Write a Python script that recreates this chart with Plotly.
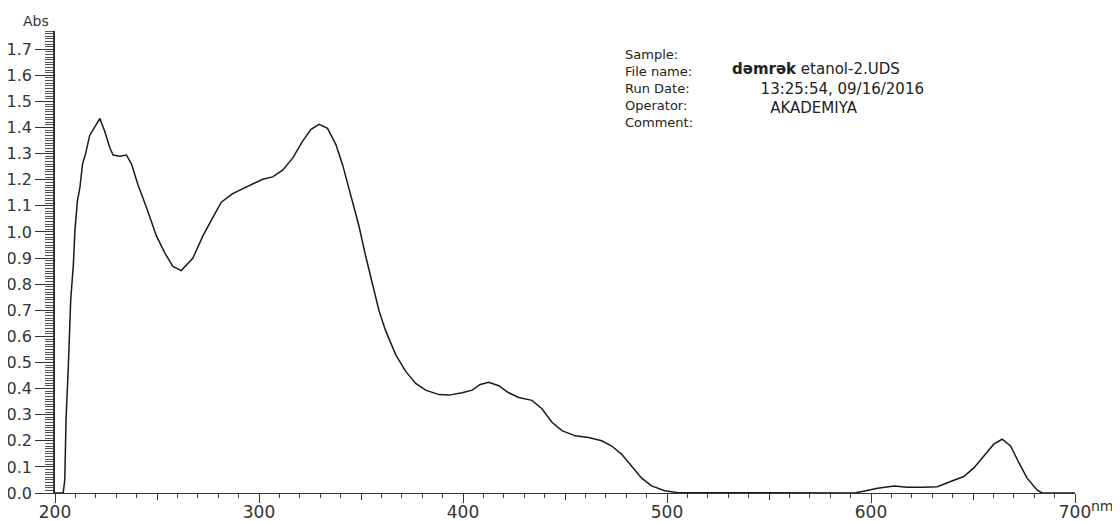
import plotly.graph_objects as go

# Spectrum (wavelength in nm, absorbance)
wavelength = [200, 204, 204.8, 205.4, 206.5, 207.7, 209, 209.8, 211, 212.2, 213.5, 215, 217, 219.5,
              222, 224.4, 227, 228.5, 231.8, 235, 237.5, 240.7, 244.8, 249.7, 253.8, 257.8, 261.9,
              267.6, 272.5, 277.4, 281.5, 287.1, 293, 296.9, 301.8, 306.7, 311.6, 316.5, 321.4,
              325.5, 329.5, 333.6, 337.7, 341, 345, 349, 352.3, 355.6, 358.8, 362.1, 367, 371.9,
              376.8, 381.7, 388.2, 393.1, 399.6, 404.5, 408.5, 412.6, 417.5, 422.4, 427.3, 433.8,
              438.7, 443.6, 448.5, 455, 461.5, 468, 472.9, 477.8, 482.7, 487.6, 492.4, 498.9,
              505.5, 550, 592, 597, 603.2, 611.4, 617.9, 626, 632.5, 639, 645.5, 650.4, 655.3,
              660.2, 664.3, 668.4, 672.5, 676.5, 681.4, 683.8, 700]
absorbance = [0, 0, 0.05, 0.28, 0.48, 0.74, 0.875, 1.01, 1.12, 1.17, 1.26, 1.30, 1.37, 1.40,
              1.435, 1.385, 1.32, 1.295, 1.29, 1.295, 1.26, 1.18, 1.095, 0.985, 0.92, 0.868, 0.852,
              0.90, 0.985, 1.056, 1.114, 1.147, 1.17, 1.186, 1.202, 1.211, 1.237, 1.283, 1.348,
              1.393, 1.412, 1.397, 1.335, 1.257, 1.14, 1.023, 0.907, 0.803, 0.699, 0.621, 0.53, 0.466,
              0.42, 0.394, 0.377, 0.375, 0.384, 0.394, 0.416, 0.424, 0.411, 0.384, 0.366, 0.355,
              0.323, 0.271, 0.239, 0.219, 0.213, 0.2, 0.18, 0.148, 0.102, 0.057, 0.027, 0.009,
              0.001, 0.0, 0.0, 0.008, 0.018, 0.027, 0.022, 0.022, 0.024, 0.044, 0.063, 0.096, 0.141,
              0.187, 0.206, 0.18, 0.116, 0.057, 0.012, 0.0, 0.0]

x_ticks = [200, 250, 300, 350, 400, 450, 500, 550, 600, 650, 700]
x_ticktext = ["200", "", "300", "", "400", "", "500", "", "600", "", "700"]
x_major = [200, 300, 400, 500, 600, 700]
y_ticks = [round(i * 0.1, 1) for i in range(18)]
y_ticktext = [f"{v:.1f}" for v in y_ticks]

NB = "\u00a0"
info_labels = ["Sample:", "File name:", "Run Date:", "Operator:", "Comment:"]
info_values = ["<b>dəmrək</b> etanol-2.UDS", NB * 6 + "13:25:54, 09/16/2016",
               NB * 8 + "AKADEMIYA"]

FONT = "DejaVu Sans"

fig = go.Figure()
fig.add_trace(go.Scatter(x=wavelength, y=absorbance, mode="lines",
                         line=dict(color="#1a1a1a", width=1.5), hoverinfo="skip",
                         showlegend=False))
# invisible trace to carry the long 100-nm ticks axis
fig.add_trace(go.Scatter(x=[200, 700], y=[0, 0], xaxis="x2", mode="lines",
                         line=dict(color="rgba(0,0,0,0)", width=0), hoverinfo="skip",
                         showlegend=False))

fig.update_layout(
    width=1120, height=522,
    margin=dict(l=47, r=53, t=23, b=37),
    paper_bgcolor="white", plot_bgcolor="white",
    font=dict(family=FONT, color="#222"),
    xaxis=dict(range=[200, 700], tickvals=x_ticks, ticktext=x_ticktext,
               ticks="outside", ticklen=6, tickwidth=1.3, tickcolor="#333",
               showline=True, linecolor="#333", linewidth=1.4, automargin=False,
               showgrid=False, zeroline=False, ticklabelstandoff=-3,
               tickfont=dict(family=FONT, size=17, color="#333"),
               minor=dict(dtick=10, tick0=200, ticks="outside", ticklen=4,
                          tickwidth=1.2, tickcolor="#444", showgrid=False)),
    xaxis2=dict(range=[200, 700], overlaying="x", side="bottom", anchor="y",
                tickvals=x_major, ticks="outside", ticklen=9, tickwidth=1.4,
                tickcolor="#333", showticklabels=False, showline=False,
                automargin=False, showgrid=False, zeroline=False),
    yaxis=dict(range=[0, 1.77], tickvals=y_ticks, ticktext=y_ticktext,
               ticks="outside", ticklen=18, tickwidth=1.3, tickcolor="#333",
               showline=True, linecolor="#333", linewidth=1.6, automargin=False,
               showgrid=False, zeroline=False,
               tickfont=dict(family=FONT, size=16, color="#333"),
               minor=dict(dtick=0.01, tick0=0, ticks="outside", ticklen=8,
                          tickwidth=1, tickcolor="#555", showgrid=False)),
)

annotations = [
    dict(text="Abs", xref="paper", yref="paper", x=0.0, y=1.0, xanchor="right",
         yanchor="bottom", xshift=-4, yshift=0, showarrow=False,
         font=dict(family=FONT, size=14, color="#333")),
    dict(text="nm", xref="paper", yref="paper", x=1.0, y=0.0, xanchor="left",
         yanchor="top", xshift=14, yshift=-3, showarrow=False,
         font=dict(family=FONT, size=14, color="#333")),
    dict(text="<br>".join(info_labels), xref="paper", yref="paper", x=0.557, y=0.9697,
         xanchor="left", yanchor="top", align="left", showarrow=False,
         font=dict(family=FONT, size=13, color="#222")),
    dict(text="<br>".join(info_values), xref="paper", yref="paper", x=0.662, y=0.876,
         xanchor="left", yanchor="middle", align="left", showarrow=False,
         font=dict(family=FONT, size=15, color="#222")),
]
fig.update_layout(annotations=annotations)

fig.write_html("out.html")
